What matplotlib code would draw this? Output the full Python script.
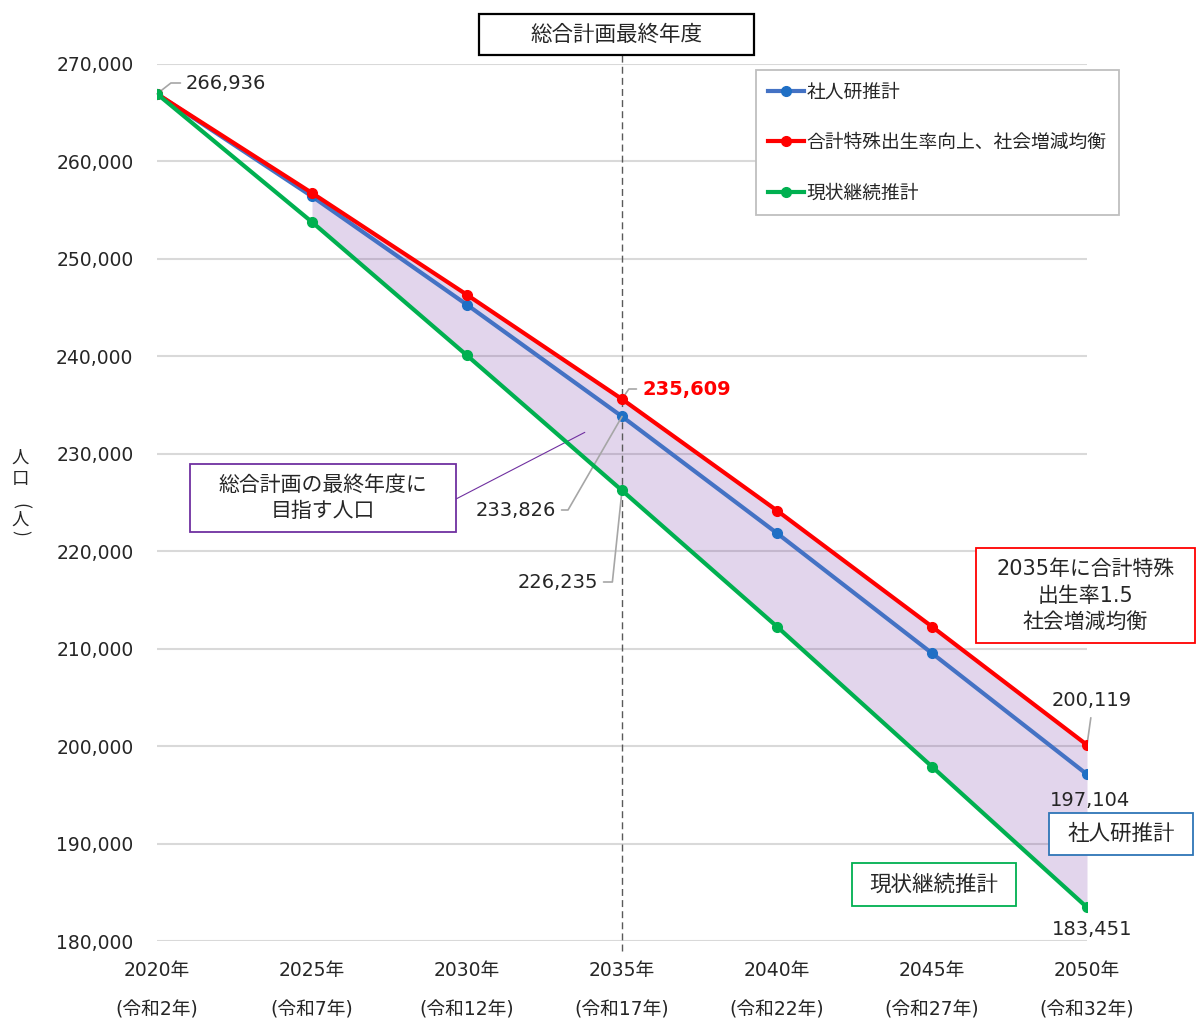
import matplotlib
matplotlib.use('Agg')
import matplotlib.pyplot as plt
from matplotlib.patches import Rectangle

plt.rcParams['font.family'] = ['DejaVu Sans', 'Noto Sans CJK JP']

# データ
years = [2020, 2025, 2030, 2035, 2040, 2045, 2050]
reiwa = ['令和2年', '令和7年', '令和12年', '令和17年', '令和22年', '令和27年', '令和32年']
ipss = [266936, 256410, 245290, 233826, 221850, 209530, 197104]      # 社人研推計
target = [266936, 256760, 246310, 235609, 224170, 212260, 200119]    # 合計特殊出生率向上、社会増減均衡
current = [266936, 253780, 240090, 226235, 212260, 197890, 183451]   # 現状継続推計
yticks = list(range(180000, 270001, 10000))

W, H = 1197, 1021
fig = plt.figure(figsize=(W / 100, H / 100), dpi=100)
ax = fig.add_axes([157 / W, 1 - 941 / H, 930 / W, 877 / H])


def fpx(x, y):
    # image pixel (top-left origin) -> figure pixels
    return (x, H - y)


def box(x0, y0, x1, y1, txt, edge, fs, lw=1.3):
    fig.add_artist(Rectangle((x0 / W, 1 - y1 / H), (x1 - x0) / W, (y1 - y0) / H,
                             transform=fig.transFigure, facecolor='white',
                             edgecolor=edge, lw=lw, zorder=5))
    fig.text((x0 + x1) / 2 / W, 1 - (y0 + y1) / 2 / H, txt, ha='center', va='center',
             fontsize=fs, color='#262626', zorder=6, linespacing=1.4)


# 塗りつぶし
ax.fill_between(years[1:], current[1:], target[1:], color='#7030a0', alpha=0.2, lw=0, zorder=1.5)

ax.plot(years, ipss, '-o', color='#4472c4', mfc='#1f6fc5', mec='#1f6fc5', lw=3, ms=7,
        label='社人研推計', zorder=3)
ax.plot(years, target, '-o', color='#ff0000', lw=3, ms=7,
        label='合計特殊出生率向上、社会増減均衡', zorder=3.1)
ax.plot(years, current, '-o', color='#00b050', lw=3, ms=7,
        label='現状継続推計', zorder=3.2)

ax.set_xlim(2020, 2050)
ax.set_ylim(180000, 270000)
ax.set_yticks(yticks)
ax.set_yticklabels([f'{v:,}' for v in yticks], fontsize=13.5, color='#262626')
ax.tick_params(axis='y', length=0, pad=17)
ax.set_xticks([])
ax.grid(axis='y', color='#d9d9d9', lw=1.5)
ax.set_axisbelow(True)
for s in ax.spines.values():
    s.set_visible(False)

# x軸ラベル（2段）
for yr, r in zip(years, reiwa):
    ax.text(yr, -0.034, f'{yr}年', transform=ax.get_xaxis_transform(),
            ha='center', va='center', fontsize=13.5, color='#262626')
    ax.text(yr, -0.079, f'({r})', transform=ax.get_xaxis_transform(),
            ha='center', va='center', fontsize=13.5, color='#262626')

# y軸タイトル（縦書き：文字は正立、括弧は90度回転）
ylab = [('人', 458, 0), ('口', 479, 0), ('(', 506, 270), ('人', 520, 0), (')', 533, 270)]
for ch, yy, rot in ylab:
    fig.text(20 / W, 1 - yy / H, ch, ha='center', va='center', rotation=rot,
             fontsize=12.5, color='#262626', family='Noto Sans CJK JP')

# 2035年の破線
ax.plot([2035, 2035], [-0.011, 1.01], transform=ax.get_xaxis_transform(),
        color='#595959', lw=1, ls=(0, (5, 3)), clip_on=False, zorder=2)

# 凡例
leg = ax.legend(loc='upper left', bbox_to_anchor=(756 / W, 1 - 70 / H),
                bbox_transform=fig.transFigure, borderaxespad=0, fontsize=13.5,
                frameon=True, fancybox=False, edgecolor='#bfbfbf', framealpha=1,
                labelspacing=1.7, handlelength=1.9, handletextpad=0.15, borderpad=0.65)
leg.get_frame().set_linewidth(1.3)
for t in leg.get_texts():
    t.set_color('#262626')

# データラベル
kw = dict(textcoords='figure pixels', fontsize=14, color='#262626', va='center')
ln = dict(arrowstyle='-', color='#a6a6a6', lw=1.2, shrinkA=2, shrinkB=0)

ax.annotate(f'{ipss[0]:,}', xy=(years[0], ipss[0]), xytext=fpx(186, 83), ha='left',
            arrowprops=dict(ln, relpos=(0, 0.5), connectionstyle='angle,angleA=0,angleB=38,rad=0'), **kw)
ax.annotate(f'{target[3]:,}', xy=(years[3], target[3]), xytext=fpx(642, 389), ha='left',
            arrowprops=dict(ln, relpos=(0, 0.5), connectionstyle='angle,angleA=0,angleB=56,rad=0'),
            fontweight='bold', textcoords='figure pixels', fontsize=14, color='#ff0000', va='center')
ax.annotate(f'{ipss[3]:,}', xy=(years[3], ipss[3]), xytext=fpx(556, 510), ha='right',
            arrowprops=dict(ln, relpos=(1, 0.5), connectionstyle='angle,angleA=0,angleB=60,rad=0'), **kw)
ax.annotate(f'{current[3]:,}', xy=(years[3], current[3]), xytext=fpx(598, 582), ha='right',
            arrowprops=dict(ln, relpos=(1, 0.5), connectionstyle='angle,angleA=0,angleB=84,rad=0'), **kw)
ax.annotate(f'{target[6]:,}', xy=(years[6], target[6]), xytext=fpx(1092, 700), ha='center',
            arrowprops=dict(ln, relpos=(0.5, 0), shrinkA=4), **kw)
ax.annotate(f'{ipss[6]:,}', xy=(years[6], ipss[6]), xytext=fpx(1090, 800), ha='center', **kw)
ax.annotate(f'{current[6]:,}', xy=(years[6], current[6]), xytext=fpx(1092, 929), ha='center', **kw)

# 説明ボックス
box(479, 14, 754, 55, '総合計画最終年度', 'black', 15.5, lw=1.6)
box(190, 464, 456, 532, '総合計画の最終年度に\n目指す人口', '#7030a0', 15)
box(976, 548, 1195, 643, '2035年に合計特殊\n出生率1.5\n社会増減均衡', '#ff0000', 15)
box(1049, 813, 1193, 855, '社人研推計', '#2e75b6', 15.5)
box(852, 863, 1016, 906, '現状継続推計', '#00b050', 15.5)

ax.annotate('', xy=(2033.8, 232200), xytext=fpx(456, 499), textcoords='figure pixels',
            arrowprops=dict(arrowstyle='-', color='#7030a0', lw=0.8, shrinkA=0, shrinkB=0))

fig.savefig('out.png', dpi=100)
